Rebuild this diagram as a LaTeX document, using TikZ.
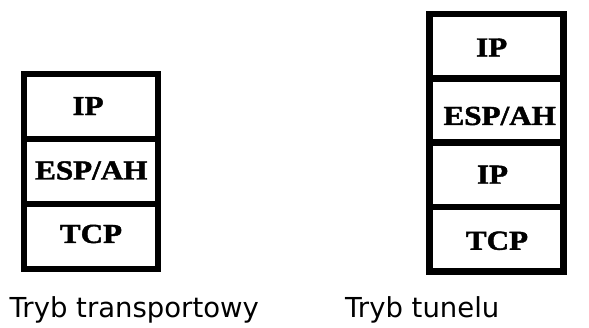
\documentclass[tikz,border=0pt]{standalone}
\usepackage{fontspec}
\setmainfont{Liberation Serif}
\newfontfamily\boxfont{Liberation Serif Bold}[FakeBold=1.5]
\newfontfamily\capfont{DejaVu Sans}
\newcommand\hstretch[1]{\scalebox{1.13}[1]{#1}}
\begin{document}
\begin{tikzpicture}[x=1pt,y=-1pt,
  cell/.style={draw=black, line width=6.6pt, minimum width=134pt,
    minimum height=#1, inner sep=0pt, outer sep=0pt},
  cell/.default=65pt,
  lbl/.style={inner sep=0pt, font=\boxfont\fontsize{27.5}{28}\selectfont},
  caption/.style={anchor=base west, inner sep=0pt,
    font=\capfont\fontsize{27.5}{30}\selectfont}]
\path[fill=white,use as bounding box] (0,0) rectangle (589,327);

% transport mode stack
\begin{scope}[every node/.append style={minimum width=132pt}]
\node[cell] (a1) at (91,106.5) {};
\node[cell] (a2) at (91,171.5) {};
\node[cell] (a3) at (91,236.5) {};
\end{scope}
\node[lbl] (a1t) at (88,106) {\hstretch{IP}};
\node[lbl] (a2t) at (91.3,170.5) {\hstretch{ESP/AH}};
\node[lbl] (a3t) at (91,234) {\hstretch{TCP}};

% tunnel mode stack
\node[cell=64.4pt] (b1) at (496.3,46) {};
\node[cell=64.4pt] (b2) at (496.3,110.4) {};
\node[cell=64.4pt] (b3) at (496.3,174.8) {};
\node[cell=64.4pt] (b4) at (496.3,239.2) {};
\node[lbl] (b1t) at (491.7,47.5) {\hstretch{IP}};
\node[lbl] (b2t) at (499.7,116) {\hstretch{ESP/AH}};
\node[lbl] (b3t) at (492.5,174.7) {\hstretch{IP}};
\node[lbl] (b4t) at (497,240.8) {\hstretch{TCP}};

% captions
\node[caption] (ca) at (9.5,317.3) {Tryb transportowy};
\node[caption] (cb) at (345,317.3) {Tryb tunelu};
\end{tikzpicture}
\end{document}
